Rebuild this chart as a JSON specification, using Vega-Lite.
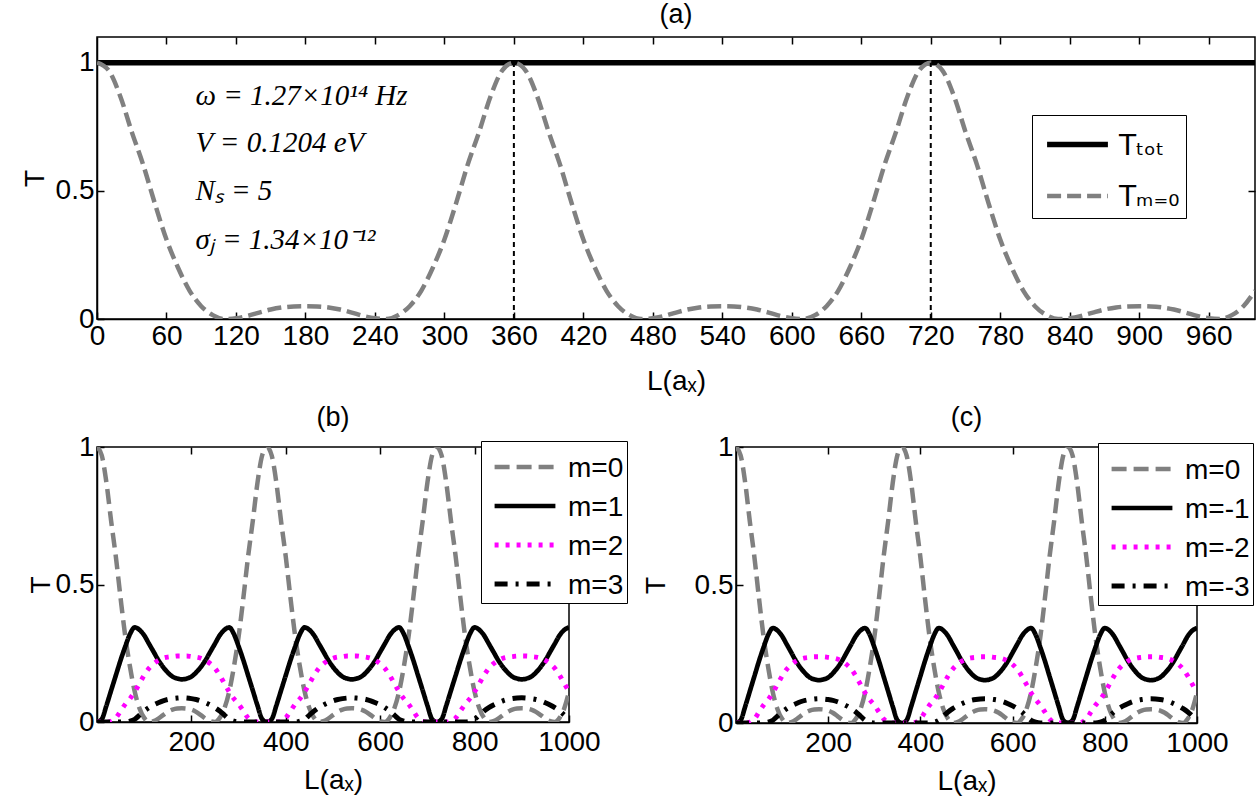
{
  "$schema": "https://vega.github.io/schema/vega-lite/v6.json",
  "background": "white",
  "padding": {"left": 20, "top": 0, "right": 0, "bottom": 0},
  "config": {
    "font": "Liberation Sans",
    "view": {"stroke": "black", "strokeWidth": 1.5},
    "axis": {"grid": false, "domainColor": "black", "domainWidth": 1.5, "tickColor": "black", "tickWidth": 1.5, "tickSize": -7, "labelColor": "black", "labelFontSize": 28, "labelPadding": 10, "labelFlush": false, "labelOverlap": false, "labelExpr": "'' + datum.value", "titleColor": "black", "titleFontSize": 28, "titleFontWeight": "normal"},
    "legend": {"orient": "none", "strokeColor": "black", "fillColor": "white", "labelFontSize": 28, "labelColor": "black", "labelBaseline": "alphabetic", "symbolType": "M-1,-0.33H1", "symbolSize": 3700, "labelOffset": 8, "title": null},
    "title": {"fontSize": 27, "fontWeight": "normal", "color": "black", "offset": 7, "font": "Liberation Sans"}
  },
  "datasets": {
    "curves": [
      {"L":0,"tot":1,"m0":1,"m1":0,"m2":0,"m3":0},
      {"L":10,"tot":1,"m0":0.97,"m1":0.01,"m2":0,"m3":0},
      {"L":20,"tot":1,"m0":0.87,"m1":0.06,"m2":0,"m3":0},
      {"L":30,"tot":1,"m0":0.73,"m1":0.115,"m2":0.003,"m3":0},
      {"L":40,"tot":1,"m0":0.6,"m1":0.17,"m2":0.015,"m3":0},
      {"L":50,"tot":1,"m0":0.45,"m1":0.225,"m2":0.04,"m3":0},
      {"L":60,"tot":1,"m0":0.31,"m1":0.275,"m2":0.065,"m3":0},
      {"L":70,"tot":1,"m0":0.2,"m1":0.32,"m2":0.085,"m3":0.003},
      {"L":80,"tot":1,"m0":0.11,"m1":0.344,"m2":0.11,"m3":0.01},
      {"L":90,"tot":1,"m0":0.05,"m1":0.335,"m2":0.14,"m3":0.025},
      {"L":100,"tot":1,"m0":0.015,"m1":0.315,"m2":0.17,"m3":0.04},
      {"L":110,"tot":1,"m0":0,"m1":0.285,"m2":0.195,"m3":0.052},
      {"L":120,"tot":1,"m0":0.003,"m1":0.255,"m2":0.212,"m3":0.062},
      {"L":130,"tot":1,"m0":0.012,"m1":0.225,"m2":0.224,"m3":0.07},
      {"L":140,"tot":1,"m0":0.025,"m1":0.2,"m2":0.232,"m3":0.077},
      {"L":150,"tot":1,"m0":0.037,"m1":0.18,"m2":0.236,"m3":0.082},
      {"L":160,"tot":1,"m0":0.045,"m1":0.165,"m2":0.238,"m3":0.085},
      {"L":170,"tot":1,"m0":0.049,"m1":0.158,"m2":0.24,"m3":0.087},
      {"L":180,"tot":1,"m0":0.05,"m1":0.155,"m2":0.24,"m3":0.088},
      {"L":190,"tot":1,"m0":0.049,"m1":0.158,"m2":0.24,"m3":0.087},
      {"L":200,"tot":1,"m0":0.045,"m1":0.165,"m2":0.238,"m3":0.085},
      {"L":210,"tot":1,"m0":0.037,"m1":0.18,"m2":0.236,"m3":0.082},
      {"L":220,"tot":1,"m0":0.025,"m1":0.2,"m2":0.232,"m3":0.077},
      {"L":230,"tot":1,"m0":0.012,"m1":0.225,"m2":0.224,"m3":0.07},
      {"L":240,"tot":1,"m0":0.003,"m1":0.255,"m2":0.212,"m3":0.062},
      {"L":250,"tot":1,"m0":0,"m1":0.285,"m2":0.195,"m3":0.052},
      {"L":260,"tot":1,"m0":0.015,"m1":0.315,"m2":0.17,"m3":0.04},
      {"L":270,"tot":1,"m0":0.05,"m1":0.335,"m2":0.14,"m3":0.025},
      {"L":280,"tot":1,"m0":0.11,"m1":0.344,"m2":0.11,"m3":0.01},
      {"L":290,"tot":1,"m0":0.2,"m1":0.32,"m2":0.085,"m3":0.003},
      {"L":300,"tot":1,"m0":0.31,"m1":0.275,"m2":0.065,"m3":0},
      {"L":310,"tot":1,"m0":0.45,"m1":0.225,"m2":0.04,"m3":0},
      {"L":320,"tot":1,"m0":0.6,"m1":0.17,"m2":0.015,"m3":0},
      {"L":330,"tot":1,"m0":0.73,"m1":0.115,"m2":0.003,"m3":0},
      {"L":340,"tot":1,"m0":0.87,"m1":0.06,"m2":0,"m3":0},
      {"L":350,"tot":1,"m0":0.97,"m1":0.01,"m2":0,"m3":0},
      {"L":360,"tot":1,"m0":1,"m1":0,"m2":0,"m3":0},
      {"L":370,"tot":1,"m0":0.97,"m1":0.01,"m2":0,"m3":0},
      {"L":380,"tot":1,"m0":0.87,"m1":0.06,"m2":0,"m3":0},
      {"L":390,"tot":1,"m0":0.73,"m1":0.115,"m2":0.003,"m3":0},
      {"L":400,"tot":1,"m0":0.6,"m1":0.17,"m2":0.015,"m3":0},
      {"L":410,"tot":1,"m0":0.45,"m1":0.225,"m2":0.04,"m3":0},
      {"L":420,"tot":1,"m0":0.31,"m1":0.275,"m2":0.065,"m3":0},
      {"L":430,"tot":1,"m0":0.2,"m1":0.32,"m2":0.085,"m3":0.003},
      {"L":440,"tot":1,"m0":0.11,"m1":0.344,"m2":0.11,"m3":0.01},
      {"L":450,"tot":1,"m0":0.05,"m1":0.335,"m2":0.14,"m3":0.025},
      {"L":460,"tot":1,"m0":0.015,"m1":0.315,"m2":0.17,"m3":0.04},
      {"L":470,"tot":1,"m0":0,"m1":0.285,"m2":0.195,"m3":0.052},
      {"L":480,"tot":1,"m0":0.003,"m1":0.255,"m2":0.212,"m3":0.062},
      {"L":490,"tot":1,"m0":0.012,"m1":0.225,"m2":0.224,"m3":0.07},
      {"L":500,"tot":1,"m0":0.025,"m1":0.2,"m2":0.232,"m3":0.077},
      {"L":510,"tot":1,"m0":0.037,"m1":0.18,"m2":0.236,"m3":0.082},
      {"L":520,"tot":1,"m0":0.045,"m1":0.165,"m2":0.238,"m3":0.085},
      {"L":530,"tot":1,"m0":0.049,"m1":0.158,"m2":0.24,"m3":0.087},
      {"L":540,"tot":1,"m0":0.05,"m1":0.155,"m2":0.24,"m3":0.088},
      {"L":550,"tot":1,"m0":0.049,"m1":0.158,"m2":0.24,"m3":0.087},
      {"L":560,"tot":1,"m0":0.045,"m1":0.165,"m2":0.238,"m3":0.085},
      {"L":570,"tot":1,"m0":0.037,"m1":0.18,"m2":0.236,"m3":0.082},
      {"L":580,"tot":1,"m0":0.025,"m1":0.2,"m2":0.232,"m3":0.077},
      {"L":590,"tot":1,"m0":0.012,"m1":0.225,"m2":0.224,"m3":0.07},
      {"L":600,"tot":1,"m0":0.003,"m1":0.255,"m2":0.212,"m3":0.062},
      {"L":610,"tot":1,"m0":0,"m1":0.285,"m2":0.195,"m3":0.052},
      {"L":620,"tot":1,"m0":0.015,"m1":0.315,"m2":0.17,"m3":0.04},
      {"L":630,"tot":1,"m0":0.05,"m1":0.335,"m2":0.14,"m3":0.025},
      {"L":640,"tot":1,"m0":0.11,"m1":0.344,"m2":0.11,"m3":0.01},
      {"L":650,"tot":1,"m0":0.2,"m1":0.32,"m2":0.085,"m3":0.003},
      {"L":660,"tot":1,"m0":0.31,"m1":0.275,"m2":0.065,"m3":0},
      {"L":670,"tot":1,"m0":0.45,"m1":0.225,"m2":0.04,"m3":0},
      {"L":680,"tot":1,"m0":0.6,"m1":0.17,"m2":0.015,"m3":0},
      {"L":690,"tot":1,"m0":0.73,"m1":0.115,"m2":0.003,"m3":0},
      {"L":700,"tot":1,"m0":0.87,"m1":0.06,"m2":0,"m3":0},
      {"L":710,"tot":1,"m0":0.97,"m1":0.01,"m2":0,"m3":0},
      {"L":720,"tot":1,"m0":1,"m1":0,"m2":0,"m3":0},
      {"L":730,"tot":1,"m0":0.97,"m1":0.01,"m2":0,"m3":0},
      {"L":740,"tot":1,"m0":0.87,"m1":0.06,"m2":0,"m3":0},
      {"L":750,"tot":1,"m0":0.73,"m1":0.115,"m2":0.003,"m3":0},
      {"L":760,"tot":1,"m0":0.6,"m1":0.17,"m2":0.015,"m3":0},
      {"L":770,"tot":1,"m0":0.45,"m1":0.225,"m2":0.04,"m3":0},
      {"L":780,"tot":1,"m0":0.31,"m1":0.275,"m2":0.065,"m3":0},
      {"L":790,"tot":1,"m0":0.2,"m1":0.32,"m2":0.085,"m3":0.003},
      {"L":800,"tot":1,"m0":0.11,"m1":0.344,"m2":0.11,"m3":0.01},
      {"L":810,"tot":1,"m0":0.05,"m1":0.335,"m2":0.14,"m3":0.025},
      {"L":820,"tot":1,"m0":0.015,"m1":0.315,"m2":0.17,"m3":0.04},
      {"L":830,"tot":1,"m0":0,"m1":0.285,"m2":0.195,"m3":0.052},
      {"L":840,"tot":1,"m0":0.003,"m1":0.255,"m2":0.212,"m3":0.062},
      {"L":850,"tot":1,"m0":0.012,"m1":0.225,"m2":0.224,"m3":0.07},
      {"L":860,"tot":1,"m0":0.025,"m1":0.2,"m2":0.232,"m3":0.077},
      {"L":870,"tot":1,"m0":0.037,"m1":0.18,"m2":0.236,"m3":0.082},
      {"L":880,"tot":1,"m0":0.045,"m1":0.165,"m2":0.238,"m3":0.085},
      {"L":890,"tot":1,"m0":0.049,"m1":0.158,"m2":0.24,"m3":0.087},
      {"L":900,"tot":1,"m0":0.05,"m1":0.155,"m2":0.24,"m3":0.088},
      {"L":910,"tot":1,"m0":0.049,"m1":0.158,"m2":0.24,"m3":0.087},
      {"L":920,"tot":1,"m0":0.045,"m1":0.165,"m2":0.238,"m3":0.085},
      {"L":930,"tot":1,"m0":0.037,"m1":0.18,"m2":0.236,"m3":0.082},
      {"L":940,"tot":1,"m0":0.025,"m1":0.2,"m2":0.232,"m3":0.077},
      {"L":950,"tot":1,"m0":0.012,"m1":0.225,"m2":0.224,"m3":0.07},
      {"L":960,"tot":1,"m0":0.003,"m1":0.255,"m2":0.212,"m3":0.062},
      {"L":970,"tot":1,"m0":0,"m1":0.285,"m2":0.195,"m3":0.052},
      {"L":980,"tot":1,"m0":0.015,"m1":0.315,"m2":0.17,"m3":0.04},
      {"L":990,"tot":1,"m0":0.05,"m1":0.335,"m2":0.14,"m3":0.025},
      {"L":1000,"tot":1,"m0":0.11,"m1":0.344,"m2":0.11,"m3":0.01}
    ],
    "vlines": [{"L":360},{"L":720}],
    "notes": [
      {"L":85,"T":0.87,"label":"ω = 1.27×10¹⁴ Hz"},
      {"L":85,"T":0.687,"label":"V = 0.1204 eV"},
      {"L":85,"T":0.499,"label":"Nₛ = 5"},
      {"L":85,"T":0.308,"label":"σⱼ = 1.34×10⁻¹²"}
    ]
  },
  "spacing": 7,
  "resolve": {
    "scale": {"color": "independent", "strokeDash": "independent", "strokeWidth": "independent"},
    "legend": {"color": "independent", "strokeDash": "independent", "strokeWidth": "independent"}
  },
  "vconcat": [
    {
      "title": "(a)",
      "width": 1158,
      "height": 282,
      "layer": [
        {
          "data": {"name": "curves"},
          "transform": [{"fold": ["tot", "m0"], "as": ["series", "T"]}],
          "mark": {"type": "line", "clip": true, "interpolate": "monotone", "strokeCap": "butt"},
          "encoding": {
            "x": {"field": "L", "type": "quantitative", "scale": {"domain": [0, 1000], "nice": false},
                  "axis": {"orient": "bottom", "values": [0,60,120,180,240,300,360,420,480,540,600,660,720,780,840,900,960], "title": "L(aₓ)", "titlePadding": 17}},
            "y": {"field": "T", "type": "quantitative", "scale": {"domain": [0, 1.1], "nice": false},
                  "axis": {"orient": "left", "values": [0, 0.5, 1], "title": "T", "titlePadding": 6}},
            "color": {"field": "series", "type": "nominal", "scale": {"domain": ["tot", "m0"], "range": ["#000000", "#808080"]},
                      "legend": {"legendX": 935, "legendY": 78, "padding": 6, "rowPadding": 12, "symbolOffset": 6, "labelFont": "DejaVu Sans", "labelExpr": "datum.value == 'tot' ? 'Tₜₒₜ' : 'Tₘ₌₀'"}},
            "strokeDash": {"field": "series", "type": "nominal", "scale": {"domain": ["tot", "m0"], "range": [[1, 0], [14, 6]]},
                      "legend": {"legendX": 935, "legendY": 78, "padding": 6, "rowPadding": 12, "symbolOffset": 6, "labelFont": "DejaVu Sans", "labelExpr": "datum.value == 'tot' ? 'Tₜₒₜ' : 'Tₘ₌₀'"}},
            "strokeWidth": {"field": "series", "type": "nominal", "scale": {"domain": ["tot", "m0"], "range": [5.5, 4.5]},
                      "legend": {"legendX": 935, "legendY": 78, "padding": 6, "rowPadding": 12, "symbolOffset": 6, "labelFont": "DejaVu Sans", "labelExpr": "datum.value == 'tot' ? 'Tₜₒₜ' : 'Tₘ₌₀'"}}
          }
        },
        {
          "data": {"name": "vlines"},
          "mark": {"type": "rule", "strokeDash": [5, 4], "strokeWidth": 2, "color": "black"},
          "encoding": {
            "x": {"field": "L", "type": "quantitative", "axis": {"orient": "top", "values": [60,120,180,240,300,360,420,480,540,600,660,720,780,840,900,960], "labels": false, "title": null, "domain": false}},
            "y": {"datum": 0, "type": "quantitative", "axis": {"orient": "right", "values": [0.5], "labels": false, "title": null, "domain": false}},
            "y2": {"datum": 1}
          }
        },
        {
          "data": {"name": "notes"},
          "mark": {"type": "text", "font": "Liberation Serif", "fontStyle": "italic", "fontSize": 29, "align": "left", "baseline": "middle", "color": "black"},
          "encoding": {
            "x": {"field": "L", "type": "quantitative", "axis": null},
            "y": {"field": "T", "type": "quantitative", "axis": null},
            "text": {"field": "label"}
          }
        }
      ],
      "resolve": {"axis": {"x": "independent", "y": "independent"}}
    },
    {
      "spacing": 12,
      "resolve": {
        "scale": {"color": "independent", "strokeDash": "independent", "strokeWidth": "independent"},
        "legend": {"color": "independent", "strokeDash": "independent", "strokeWidth": "independent"}
      },
      "hconcat": [
        {
          "title": {"text": "(b)", "offset": 1},
          "width": 472,
          "height": 275,
          "layer": [
            {
              "data": {"name": "curves"},
              "transform": [{"fold": ["m0", "m1", "m2", "m3"], "as": ["series", "T"]}],
              "mark": {"type": "line", "clip": true, "interpolate": "monotone", "strokeCap": "butt"},
              "encoding": {
                "x": {"field": "L", "type": "quantitative", "scale": {"domain": [0, 1000], "nice": false},
                      "axis": {"orient": "bottom", "values": [200, 400, 600, 800, 1000], "title": "L(aₓ)", "titlePadding": 10, "labelPadding": 13}},
                "y": {"field": "T", "type": "quantitative", "scale": {"domain": [0, 1], "nice": false},
                      "axis": {"orient": "left", "values": [0, 0.5, 1], "title": "T", "titlePadding": 0}},
                "color": {"field": "series", "type": "nominal", "scale": {"domain": ["m0", "m1", "m2", "m3"], "range": ["#808080", "#000000", "#ff00ff", "#000000"]},
                          "legend": {"legendX": 384, "legendY": -6, "padding": 3, "rowPadding": -4, "symbolOffset": 8, "labelOffset": 10, "labelExpr": "replace(datum.value, 'm', 'm=')"}},
                "strokeDash": {"field": "series", "type": "nominal", "scale": {"domain": ["m0", "m1", "m2", "m3"], "range": [[15, 7], [1, 0], [4, 7], [13, 8, 3, 8]]},
                          "legend": {"legendX": 384, "legendY": -6, "padding": 3, "rowPadding": -4, "symbolOffset": 8, "labelOffset": 10, "labelExpr": "replace(datum.value, 'm', 'm=')"}},
                "strokeWidth": {"field": "series", "type": "nominal", "scale": {"domain": ["m0", "m1", "m2", "m3"], "range": [4.5, 5, 4.5, 5]},
                          "legend": {"legendX": 384, "legendY": -6, "padding": 3, "rowPadding": -4, "symbolOffset": 8, "labelOffset": 10, "labelExpr": "replace(datum.value, 'm', 'm=')"}}
              }
            },
            {
              "data": {"name": "vlines"},
              "mark": {"type": "rule", "opacity": 0},
              "encoding": {
                "x": {"field": "L", "type": "quantitative", "axis": {"orient": "top", "values": [200, 400, 600, 800], "labels": false, "title": null, "domain": false}},
                "y": {"datum": 0, "type": "quantitative", "axis": {"orient": "right", "values": [0.5], "labels": false, "title": null, "domain": false}},
                "y2": {"datum": 1}
              }
            }
          ],
          "resolve": {"axis": {"x": "independent", "y": "independent"}}
        },
        {
          "title": {"text": "(c)", "offset": 1},
          "width": 461,
          "height": 276,
          "layer": [
            {
              "data": {"name": "curves"},
              "transform": [{"fold": ["m0", "m1", "m2", "m3"], "as": ["series", "T"]}],
              "mark": {"type": "line", "clip": true, "interpolate": "monotone", "strokeCap": "butt"},
              "encoding": {
                "x": {"field": "L", "type": "quantitative", "scale": {"domain": [0, 1000], "nice": false},
                      "axis": {"orient": "bottom", "values": [200, 400, 600, 800, 1000], "title": "L(aₓ)", "titlePadding": 10, "labelPadding": 13}},
                "y": {"field": "T", "type": "quantitative", "scale": {"domain": [0, 1], "nice": false},
                      "axis": {"orient": "left", "values": [0, 0.5, 1], "title": "T", "titlePadding": 24}},
                "color": {"field": "series", "type": "nominal", "scale": {"domain": ["m0", "m1", "m2", "m3"], "range": ["#808080", "#000000", "#ff00ff", "#000000"]},
                          "legend": {"legendX": 362, "legendY": -4, "padding": 3, "rowPadding": -4, "symbolOffset": 8, "labelOffset": 10, "labelExpr": "datum.value == 'm0' ? 'm=0' : replace(datum.value, 'm', 'm=-')"}},
                "strokeDash": {"field": "series", "type": "nominal", "scale": {"domain": ["m0", "m1", "m2", "m3"], "range": [[15, 7], [1, 0], [4, 7], [13, 8, 3, 8]]},
                          "legend": {"legendX": 362, "legendY": -4, "padding": 3, "rowPadding": -4, "symbolOffset": 8, "labelOffset": 10, "labelExpr": "datum.value == 'm0' ? 'm=0' : replace(datum.value, 'm', 'm=-')"}},
                "strokeWidth": {"field": "series", "type": "nominal", "scale": {"domain": ["m0", "m1", "m2", "m3"], "range": [4.5, 5, 4.5, 5]},
                          "legend": {"legendX": 362, "legendY": -4, "padding": 3, "rowPadding": -4, "symbolOffset": 8, "labelOffset": 10, "labelExpr": "datum.value == 'm0' ? 'm=0' : replace(datum.value, 'm', 'm=-')"}}
              }
            },
            {
              "data": {"name": "vlines"},
              "mark": {"type": "rule", "opacity": 0},
              "encoding": {
                "x": {"field": "L", "type": "quantitative", "axis": {"orient": "top", "values": [200, 400, 600, 800], "labels": false, "title": null, "domain": false}},
                "y": {"datum": 0, "type": "quantitative", "axis": {"orient": "right", "values": [0.5], "labels": false, "title": null, "domain": false}},
                "y2": {"datum": 1}
              }
            }
          ],
          "resolve": {"axis": {"x": "independent", "y": "independent"}}
        }
      ]
    }
  ]
}
